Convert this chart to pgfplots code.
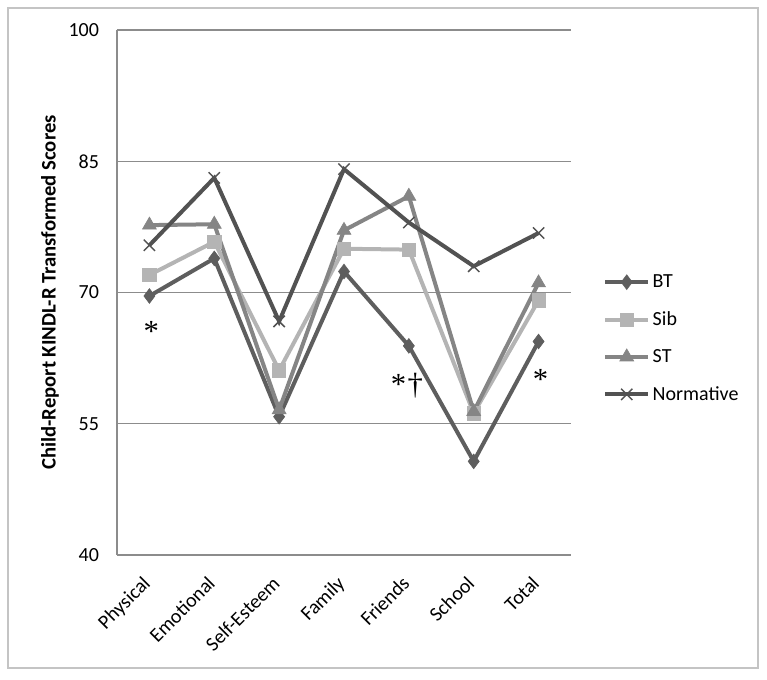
\documentclass[border=0pt]{standalone}
\usepackage{pgfplots}
\pgfplotsset{compat=1.18}
\usepackage{fontspec}
\setmainfont{Carlito}
\newfontfamily\serifsym{Liberation Serif}
\definecolor{cBT}{HTML}{5E5E5E}
\definecolor{cSib}{HTML}{B4B4B4}
\definecolor{cST}{HTML}{858585}
\definecolor{cNorm}{HTML}{525252}
\definecolor{gridgray}{HTML}{8C8C8C}
\definecolor{framegray}{HTML}{C4C4C4}
\begin{document}
\begin{tikzpicture}[x=1pt,y=1pt]
\path[use as bounding box] (-87.75,-93) rectangle (487.5,416.25);
\draw[color=framegray, line width=1.1pt] (-81.75,-84.75) rectangle (480.75,410.25);
\begin{axis}[
  at={(0,0)}, anchor=south west,
  width=340.5pt, height=393.75pt, scale only axis,
  xmin=-0.5, xmax=6.5, ymin=40, ymax=100,
  xtick={0,1,2,3,4,5,6},
  xticklabels={Physical,Emotional,Self-Esteem,Family,Friends,School,Total},
  ytick={40,55,70,85,100},
  axis x line*=bottom, axis y line*=left,
  axis line style={-, color=gridgray, line width=0.9pt},
  ymajorgrids, grid style={color=gridgray, line width=0.9pt},
  major tick length=0pt,
  /pgf/number format/assume math mode=true,
  tick label style={font=\fontsize{15}{17}\selectfont},
  yticklabel style={anchor=east, xshift=-10pt},
  xticklabel style={xshift=-6pt, yshift=-10pt, rotate=45, anchor=north east},
  ylabel={Child-Report KINDL-R Transformed Scores},
  ylabel style={at={(rel axis cs:-0.1476,0.5)}, anchor=center, font=\bfseries\fontsize{15.5}{17}\selectfont},
  legend style={at={(rel axis cs:1.062,0.4124)}, anchor=west, draw=none, fill=none,
    font=\fontsize{15}{17}\selectfont, row sep=12.5pt,
    /tikz/every even column/.append style={column sep=0pt}},
  legend cell align=left,
  legend image code/.code={\draw[mark repeat=2,mark phase=2,#1] plot coordinates {(0pt,0pt)(16pt,0pt)(32pt,0pt)};},
]
\addplot[color=cBT, line width=3pt, mark=diamond*, mark size=5.5pt, mark options={solid, line width=0.5pt, fill=cBT}]
 coordinates {(0,69.6)(1,73.9)(2,55.8)(3,72.4)(4,63.9)(5,50.7)(6,64.4)};
\addlegendentry{BT}
\addplot[color=cSib, line width=3pt, mark=square*, mark size=5pt, mark options={solid, line width=0.5pt, fill=cSib}]
 coordinates {(0,72.0)(1,75.8)(2,61.1)(3,75.0)(4,74.9)(5,56.2)(6,69.1)};
\addlegendentry{Sib}
\addplot[color=cST, line width=3pt, mark=triangle*, mark size=6pt, mark options={solid, line width=0.5pt, fill=cST}]
 coordinates {(0,77.7)(1,77.8)(2,56.6)(3,77.1)(4,81.0)(5,56.4)(6,71.1)};
\addlegendentry{ST}
\addplot[color=cNorm, line width=3pt, mark=x, mark size=6pt, mark options={solid, line width=1.1pt}]
 coordinates {(0,75.4)(1,83.1)(2,66.7)(3,84.1)(4,78.0)(5,73.0)(6,76.8)};
\addlegendentry{Normative}
\node[anchor=base, font=\serifsym\fontsize{23}{23}\selectfont] at (axis cs:0.03,64.41) {*};
\node[anchor=base, font=\serifsym\fontsize{23}{23}\selectfont] at (axis cs:3.97,58.35) {*\kern1pt†};
\node[anchor=base, font=\serifsym\fontsize{23}{23}\selectfont] at (axis cs:6.03,58.93) {*};
\end{axis}
\end{tikzpicture}
\end{document}
